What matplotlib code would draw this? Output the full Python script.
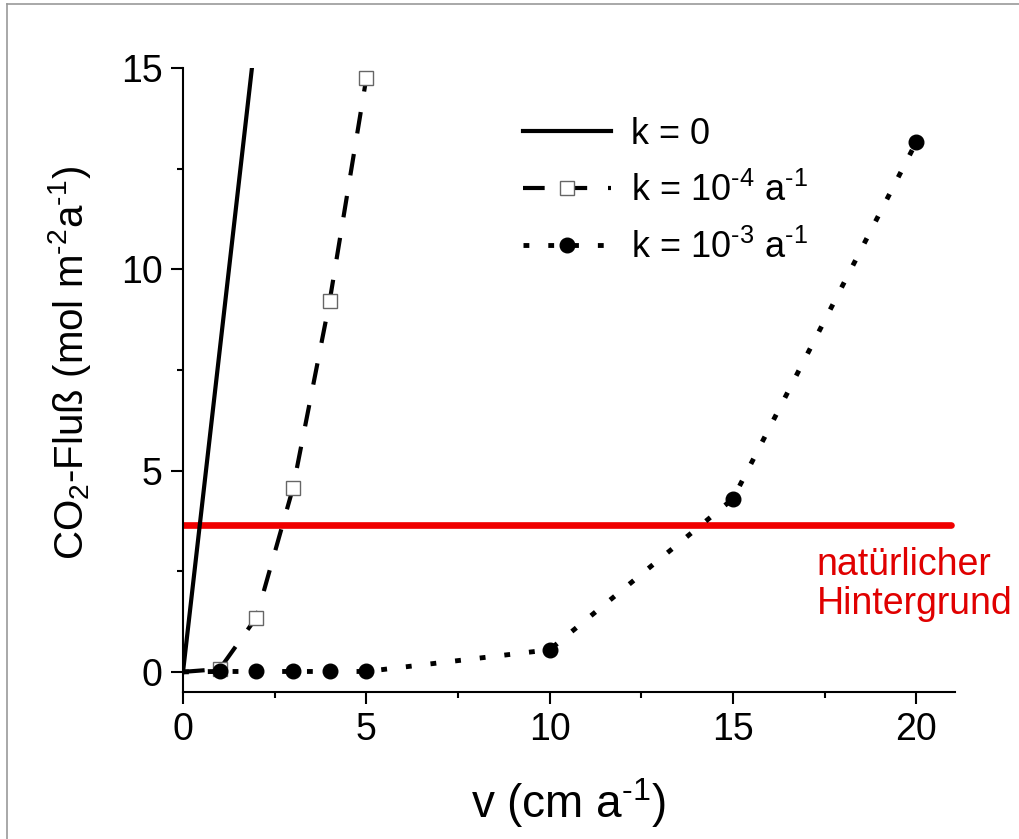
import matplotlib

matplotlib.use("Agg")
import matplotlib.pyplot as plt
from matplotlib.lines import Line2D

# CO2 flux vs. velocity for three reaction rates
v_k0 = [0, 1, 2]
flux_k0 = [0, 7.98, 15.96]

v_k4 = [0, 1, 2, 3, 4, 5]
flux_k4 = [0, 0.07, 1.35, 4.57, 9.21, 14.75]

v_k3 = [0, 1, 2, 3, 4, 5, 10, 15, 20]
flux_k3 = [0, 0.01, 0.01, 0.01, 0.01, 0.01, 0.55, 4.30, 13.16]

background_flux = 3.65
x_range = [0, 20.95]

labels = ["k = 0", "k = 10$^{\u20104}$ a$^{\u20101}$", "k = 10$^{\u20103}$ a$^{\u20101}$"]
background_label = "natürlicher\nHintergrund"
x_label = "v (cm a$^{\u20101}$)"
y_label = "CO$_2$-Fluß (mol m$^{\u20102}$a$^{\u20101}$)"

plt.rcParams["font.family"] = ["Liberation Sans", "DejaVu Sans"]
plt.rcParams["mathtext.fontset"] = "custom"
plt.rcParams["mathtext.rm"] = "Liberation Sans"
plt.rcParams["mathtext.it"] = "Liberation Sans:italic"
plt.rcParams["mathtext.bf"] = "Liberation Sans:bold"

fig = plt.figure(figsize=(10.19, 8.39), dpi=100)
ax = fig.add_axes([0.1796, 0.1752, 0.7574, 0.7438])

ax.plot(v_k0, flux_k0, color="black", linewidth=3.0, label=labels[0])
ax.plot(v_k4, flux_k4, color="black", linewidth=3.0, linestyle=(0, (5.2, 5.0)),
        marker="s", markersize=9.5, markerfacecolor="white",
        markeredgecolor="#666666", markeredgewidth=1.0,
        markevery=slice(1, None), label=labels[1])
ax.plot(v_k3, flux_k3, color="black", linewidth=3.5, linestyle=(0, (1.2, 3.9)),
        marker="o", markersize=10.5, markerfacecolor="black",
        markeredgecolor="black", markevery=slice(1, None), label=labels[2])

ax.plot(x_range, [background_flux, background_flux], color="#f00000",
        linewidth=4.8, solid_capstyle="round", zorder=1)
ax.text(0.821, 0.232, background_label, transform=ax.transAxes,
        color="#e00000", fontsize=27, ha="left", va="top", linespacing=1.1,
        clip_on=False)

ax.set_xlim(0, 21.05)
ax.set_ylim(-0.5, 15)
ax.set_xticks([0, 5, 10, 15, 20])
ax.set_xticks([2.5, 7.5, 12.5, 17.5], minor=True)
ax.set_yticks([0, 5, 10, 15])
ax.set_yticks([2.5, 7.5, 12.5], minor=True)

for side in ["top", "right"]:
    ax.spines[side].set_visible(False)
for side in ["left", "bottom"]:
    ax.spines[side].set_linewidth(1.5)

ax.tick_params(which="major", direction="out", length=8.5, width=1.5,
               labelsize=27, pad=6)
ax.tick_params(which="minor", direction="out", length=4.5, width=1.5)

ax.set_xlabel(x_label, fontsize=33, labelpad=20)
ax.set_ylabel(y_label, fontsize=29)
ax.yaxis.set_label_coords(-0.116, 0.527)

ax.legend(loc="upper left", bbox_to_anchor=(0.44, 0.922), frameon=False,
          fontsize=26, handlelength=2.45, handletextpad=0.55, labelspacing=0.58,
          borderpad=0, borderaxespad=0)

# thin grey border at the top and left edges of the figure
fig.add_artist(Line2D([7 / 1019, 1], [1 - 4 / 839, 1 - 4 / 839],
                      transform=fig.transFigure, color="#999999", linewidth=1.2))
fig.add_artist(Line2D([7 / 1019, 7 / 1019], [0, 1 - 4 / 839],
                      transform=fig.transFigure, color="#999999", linewidth=1.2))

fig.savefig("out.png", dpi=100)
